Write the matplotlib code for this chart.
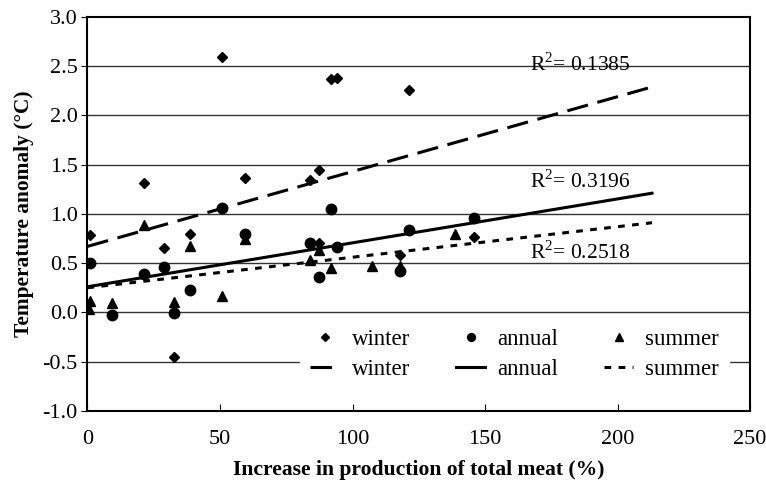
import matplotlib
matplotlib.use('Agg')
import matplotlib.pyplot as plt
import numpy as np

plt.rcParams['font.family'] = ['Liberation Serif', 'DejaVu Serif']
plt.rcParams['mathtext.fontset'] = 'custom'
plt.rcParams['mathtext.rm'] = 'Liberation Serif'

# winter (diamonds)
winter_x = [0.9, 21.5, 29.0, 32.5, 38.8, 50.8, 59.3, 84.0, 87.3, 87.3, 92.0, 94.0, 117.8, 121.3, 145.7]
winter_y = [0.79, 1.31, 0.65, -0.45, 0.80, 2.59, 1.36, 1.34, 1.45, 0.70, 2.37, 2.38, 0.58, 2.26, 0.77]

# annual (circles)
annual_x = [0.9, 9.2, 21.5, 29.0, 32.5, 38.8, 50.8, 59.3, 83.9, 87.3, 92.0, 94.0, 118.0, 121.3, 145.7]
annual_y = [0.50, -0.03, 0.39, 0.46, -0.01, 0.23, 1.06, 0.80, 0.70, 0.36, 1.05, 0.66, 0.42, 0.84, 0.96]

# summer (triangles)
summer_x = [0.9, 0.5, 9.2, 21.5, 32.5, 38.8, 50.8, 59.3, 83.9, 87.3, 92.0, 107.5, 118.0, 138.6]
summer_y = [0.12, 0.03, 0.10, 0.89, 0.11, 0.67, 0.17, 0.74, 0.53, 0.63, 0.45, 0.47, 0.47, 0.80]

# linear trend lines (intercept, slope) and R^2
trend_names = ['winter', 'annual', 'summer']
trend_b = [0.67, 0.26, 0.25]
trend_m = [0.0076, 0.00446, 0.0031]
trend_r2 = ['0.1385', '0.3196', '0.2518']
trend_xmax = 213

fig = plt.figure(figsize=(7.66, 4.8), dpi=100)
ax = fig.add_axes([0.1142, 0.144, 0.865, 0.8208])

for y in np.arange(-0.5, 3.0, 0.5):
    ax.axhline(y, color='#333333', lw=1.0, zorder=0)

h_w, = ax.plot(winter_x, winter_y, 'D', color='black', ms=5.5, ls='none', label='winter')
h_a, = ax.plot(annual_x, annual_y, 'o', color='black', ms=7.5, ls='none', label='annual')
h_s, = ax.plot(summer_x, summer_y, '^', color='black', ms=7, ls='none', label='summer')

xx = np.array([0, trend_xmax])
styles = [dict(ls=(0, (7, 3.2))), dict(ls='-'), dict(ls=(0, (2.2, 2.4)))]
line_handles = []
for name, b, m, st in zip(trend_names, trend_b, trend_m, styles):
    h, = ax.plot(xx, b + m * xx, color='black', lw=2.2, label=name, **st)
    line_handles.append(h)

# R^2 labels
ax.text(186, 2.52, r'R$^2$= ' + trend_r2[0], fontsize=15.5, ha='center', va='center')
ax.text(186, 1.33, r'R$^2$= ' + trend_r2[1], fontsize=15.5, ha='center', va='center')
ax.text(186, 0.61, r'R$^2$= ' + trend_r2[2], fontsize=15.5, ha='center', va='center')

ax.set_xlim(0, 250)
ax.set_ylim(-1.0, 3.0)
ax.set_xticks(np.arange(0, 251, 50))
ax.set_yticks(np.arange(-1.0, 3.01, 0.5))
ax.set_yticklabels(['%.1f' % v for v in np.arange(-1.0, 3.01, 0.5)])
ax.tick_params(axis='x', direction='in', length=5, labelsize=16, pad=14)
ax.tick_params(axis='y', direction='out', length=4, labelsize=16, pad=3)
for s in ax.spines.values():
    s.set_linewidth(1.5)

ax.set_xlabel('Increase in production of total meat (%)', fontsize=15.6, fontweight='bold', labelpad=8)
ax.set_ylabel('Temperature anomaly (\u00b0C)', fontsize=15.4, fontweight='bold', labelpad=6)

handles = [h_w, line_handles[0], h_a, line_handles[1], h_s, line_handles[2]]
leg = ax.legend(handles, [h.get_label() for h in handles], ncol=3, loc='center',
                bbox_to_anchor=(0.6445, 0.143), fontsize=16.5, frameon=True,
                facecolor='white', edgecolor='white', framealpha=1, fancybox=False,
                handlelength=1.3, handletextpad=0.5, columnspacing=2.0,
                labelspacing=0.42, markerscale=0.75, borderpad=0.45)

fig.savefig('out.png', dpi=100)
